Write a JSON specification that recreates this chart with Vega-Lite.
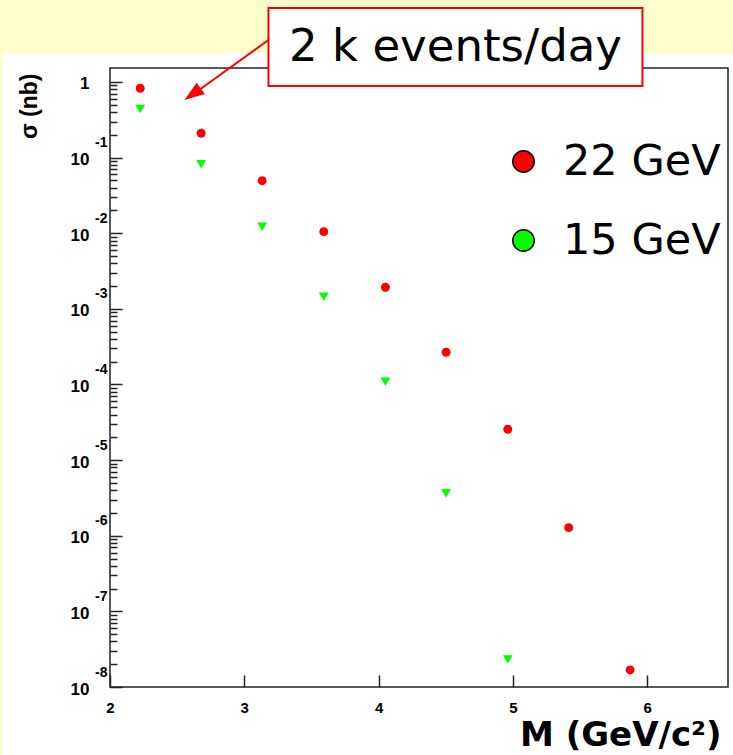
{
  "$schema": "https://vega.github.io/schema/vega-lite/v6.json",
  "width": 618,
  "height": 619,
  "autosize": {"type": "none"},
  "padding": {"left": 110, "top": 68, "right": 5, "bottom": 68},
  "background": "white",
  "config": {
    "view": {"stroke": "#222222", "strokeWidth": 1.5, "fill": "white"},
    "axis": {"grid": false, "zindex": 1}
  },
  "datasets": {
    "pts": [
      {"M": 2.225, "sigma": 0.826, "beam": "22 GeV"},
      {"M": 2.679, "sigma": 0.21, "beam": "22 GeV"},
      {"M": 3.133, "sigma": 0.0495, "beam": "22 GeV"},
      {"M": 3.592, "sigma": 0.0105, "beam": "22 GeV"},
      {"M": 4.051, "sigma": 0.00193, "beam": "22 GeV"},
      {"M": 4.503, "sigma": 0.000267, "beam": "22 GeV"},
      {"M": 4.962, "sigma": 0.0000256, "beam": "22 GeV"},
      {"M": 5.416, "sigma": 0.00000128, "beam": "22 GeV"},
      {"M": 5.873, "sigma": 0.0000000168, "beam": "22 GeV"},
      {"M": 2.225, "sigma": 0.44, "beam": "15 GeV"},
      {"M": 2.679, "sigma": 0.0816, "beam": "15 GeV"},
      {"M": 3.133, "sigma": 0.0122, "beam": "15 GeV"},
      {"M": 3.592, "sigma": 0.00145, "beam": "15 GeV"},
      {"M": 4.051, "sigma": 0.000109, "beam": "15 GeV"},
      {"M": 4.503, "sigma": 0.00000364, "beam": "15 GeV"},
      {"M": 4.962, "sigma": 0.0000000232, "beam": "15 GeV"}
    ],
    "one": [{}]
  },
  "resolve": {"axis": {"x": "independent", "y": "independent"}},
  "layer": [
    {
      "data": {"name": "one"},
      "mark": {"type": "rect", "color": "#ffffcc"},
      "encoding": {
        "x": {"datum": 1.15, "type": "quantitative", "scale": {"domain": [2, 6.602], "nice": false, "zero": false}, "axis": null},
        "x2": {"datum": 6.8},
        "y": {"datum": 13, "type": "quantitative", "scale": {"type": "log", "domain": [1e-8, 1.531], "nice": false}, "axis": null},
        "y2": {"datum": 2.418}
      }
    },
    {
      "data": {"name": "one"},
      "mark": {"type": "rect", "color": "#ffffcc"},
      "encoding": {
        "x": {"datum": 1.15, "type": "quantitative", "scale": {"domain": [2, 6.602], "nice": false, "zero": false}, "axis": null},
        "x2": {"datum": 1.199},
        "y": {"datum": 2.418, "type": "quantitative", "scale": {"type": "log", "domain": [1e-8, 1.531], "nice": false}, "axis": null},
        "y2": {"datum": 1e-10}
      }
    },
    {
      "data": {"name": "pts"},
      "transform": [{"filter": "datum.beam === '22 GeV'"}],
      "mark": {"type": "point", "filled": true, "opacity": 1, "size": 80, "shape": "circle"},
      "encoding": {
        "x": {
          "field": "M", "type": "quantitative",
          "scale": {"domain": [2, 6.602], "nice": false, "zero": false},
          "axis": {
            "values": [2, 3, 4, 5, 6],
            "tickSize": -12, "tickColor": "#222222", "tickWidth": 1.5,
            "domain": false,
            "labelFont": "Liberation Sans", "labelFontWeight": "bold", "labelFontSize": 15, "labelColor": "black",
            "labelPadding": 25, "labelFlush": false, "labelOverlap": false,
            "title": "M (GeV/c²)",
            "titleFont": "DejaVu Sans", "titleFontSize": 34, "titleFontWeight": "bold", "titleColor": "black",
            "titleAnchor": "end", "titleAlign": "right", "titleBaseline": "middle",
            "titleX": 611, "titleY": 48
          }
        },
        "y": {
          "field": "sigma", "type": "quantitative",
          "scale": {"type": "log", "domain": [1e-8, 1.531], "nice": false},
          "axis": {
            "values": [1e-8, 1e-7, 1e-6, 1e-5, 1e-4, 1e-3, 1e-2, 1e-1, 1],
            "tickSize": -12, "tickColor": "#222222", "tickWidth": 1.5,
            "domain": false,
            "labelExpr": "datum.value > 0.5 ? '1' : '10\u00a0'",
            "labelFont": "Liberation Sans", "labelFontWeight": "bold", "labelFontSize": 17, "labelColor": "black",
            "labelPadding": 33, "labelOffset": 2, "labelOverlap": false, "labelFlush": false, "labelAlign": "right", "labelBaseline": "middle",
            "title": "σ (nb)",
            "titleFont": "Liberation Sans", "titleFontSize": 23, "titleFontWeight": "bold", "titleColor": "black",
            "titleAnchor": "end", "titleAngle": -90, "titleAlign": "right", "titleBaseline": "middle",
            "titleX": -81, "titleY": 5
          }
        },
        "color": {
          "field": "beam", "type": "nominal",
          "scale": {"domain": ["22 GeV", "15 GeV"], "range": ["#ff0000", "#00ff00"]},
          "legend": {
            "title": null, "orient": "none", "legendX": 392, "legendY": 72,
            "symbolType": "circle", "symbolSize": 460, "symbolStrokeColor": "black", "symbolStrokeWidth": 1.5, "symbolOpacity": 1,
            "labelFont": "DejaVu Sans", "labelFontSize": 43, "labelColor": "black", "labelOffset": 18, "labelLimit": 0,
            "rowPadding": 35,
            "encode": {"symbols": {"update": {"shape": {"value": "circle"}, "stroke": {"value": "black"}, "strokeWidth": {"value": 1.5}}}}
          }
        }
      }
    },
    {
      "data": {"name": "pts"},
      "transform": [{"filter": "datum.beam === '15 GeV'"}],
      "mark": {"type": "point", "filled": true, "opacity": 1, "size": 95, "shape": "triangle-down"},
      "encoding": {
        "x": {"field": "M", "type": "quantitative", "scale": {"domain": [2, 6.602], "nice": false, "zero": false}, "axis": null},
        "y": {"field": "sigma", "type": "quantitative", "scale": {"type": "log", "domain": [1e-8, 1.531], "nice": false}, "axis": null},
        "color": {
          "field": "beam", "type": "nominal",
          "scale": {"domain": ["22 GeV", "15 GeV"], "range": ["#ff0000", "#00ff00"]},
          "legend": {
            "title": null, "orient": "none", "legendX": 392, "legendY": 72,
            "symbolType": "circle", "symbolSize": 460, "symbolStrokeColor": "black", "symbolStrokeWidth": 1.5, "symbolOpacity": 1,
            "labelFont": "DejaVu Sans", "labelFontSize": 43, "labelColor": "black", "labelOffset": 18, "labelLimit": 0,
            "rowPadding": 35,
            "encode": {"symbols": {"update": {"shape": {"value": "circle"}, "stroke": {"value": "black"}, "strokeWidth": {"value": 1.5}}}}
          }
        }
      }
    },
    {
      "data": {"name": "pts"},
      "mark": {"type": "point", "opacity": 0},
      "encoding": {
        "x": {"field": "M", "type": "quantitative", "scale": {"domain": [2, 6.602], "nice": false, "zero": false}, "axis": null},
        "y": {
          "field": "sigma", "type": "quantitative",
          "scale": {"type": "log", "domain": [1e-8, 1.531], "nice": false},
          "axis": {
            "orient": "left",
            "values": [1e-8, 1e-7, 1e-6, 1e-5, 1e-4, 1e-3, 1e-2, 1e-1],
            "ticks": false, "domain": false, "title": null,
            "labelExpr": "'' + round(log(datum.value) / LN10)",
            "labelFont": "Liberation Sans", "labelFontWeight": "bold", "labelFontSize": 14, "labelColor": "black",
            "labelPadding": 3, "labelOffset": -15, "labelOverlap": false, "labelFlush": false, "labelAlign": "right", "labelBaseline": "middle"
          }
        }
      }
    },
    {
      "data": {"name": "pts"},
      "mark": {"type": "point", "opacity": 0},
      "encoding": {
        "x": {"field": "M", "type": "quantitative", "scale": {"domain": [2, 6.602], "nice": false, "zero": false}, "axis": null},
        "y": {
          "field": "sigma", "type": "quantitative",
          "scale": {"type": "log", "domain": [1e-8, 1.531], "nice": false},
          "axis": {
            "orient": "left",
            "values": [2e-8, 3e-8, 4e-8, 5e-8, 6e-8, 7e-8, 8e-8, 9e-8,
                       2e-7, 3e-7, 4e-7, 5e-7, 6e-7, 7e-7, 8e-7, 9e-7,
                       2e-6, 3e-6, 4e-6, 5e-6, 6e-6, 7e-6, 8e-6, 9e-6,
                       2e-5, 3e-5, 4e-5, 5e-5, 6e-5, 7e-5, 8e-5, 9e-5,
                       2e-4, 3e-4, 4e-4, 5e-4, 6e-4, 7e-4, 8e-4, 9e-4,
                       2e-3, 3e-3, 4e-3, 5e-3, 6e-3, 7e-3, 8e-3, 9e-3,
                       2e-2, 3e-2, 4e-2, 5e-2, 6e-2, 7e-2, 8e-2, 9e-2,
                       2e-1, 3e-1, 4e-1, 5e-1, 6e-1, 7e-1, 8e-1, 9e-1],
            "ticks": true, "tickSize": -7, "tickColor": "#222222", "tickWidth": 1.5,
            "labels": false, "domain": false, "title": null
          }
        }
      }
    },
    {
      "data": {"name": "one"},
      "mark": {"type": "rect", "fill": "white", "stroke": "#ff0000", "strokeWidth": 2},
      "encoding": {
        "x": {"datum": 3.18, "type": "quantitative", "scale": {"domain": [2, 6.602], "nice": false, "zero": false}, "axis": null},
        "x2": {"datum": 5.965},
        "y": {"datum": 9.52, "type": "quantitative", "scale": {"type": "log", "domain": [1e-8, 1.531], "nice": false}, "axis": null},
        "y2": {"datum": 0.885}
      }
    },
    {
      "data": {"name": "one"},
      "mark": {"type": "text", "font": "DejaVu Sans", "fontSize": 45, "color": "black", "align": "center", "baseline": "middle"},
      "encoding": {
        "x": {"datum": 4.573, "type": "quantitative", "scale": {"domain": [2, 6.602], "nice": false, "zero": false}, "axis": null},
        "y": {"datum": 2.9, "type": "quantitative", "scale": {"type": "log", "domain": [1e-8, 1.531], "nice": false}, "axis": null},
        "text": {"value": "2 k events/day"}
      }
    },
    {
      "data": {"name": "one"},
      "mark": {"type": "rule", "color": "#ff0000", "strokeWidth": 2},
      "encoding": {
        "x": {"datum": 3.18, "type": "quantitative", "scale": {"domain": [2, 6.602], "nice": false, "zero": false}, "axis": null},
        "x2": {"datum": 2.63},
        "y": {"datum": 3.593, "type": "quantitative", "scale": {"type": "log", "domain": [1e-8, 1.531], "nice": false}, "axis": null},
        "y2": {"datum": 0.71}
      }
    },
    {
      "data": {"name": "one"},
      "mark": {"type": "point", "filled": true, "opacity": 1, "color": "#ff0000", "shape": "M0,-1L-0.7,1L0.7,1Z", "size": 400, "angle": 234.5},
      "encoding": {
        "x": {"datum": 2.615, "type": "quantitative", "scale": {"domain": [2, 6.602], "nice": false, "zero": false}, "axis": null},
        "y": {"datum": 0.69, "type": "quantitative", "scale": {"type": "log", "domain": [1e-8, 1.531], "nice": false}, "axis": null}
      }
    }
  ]
}
